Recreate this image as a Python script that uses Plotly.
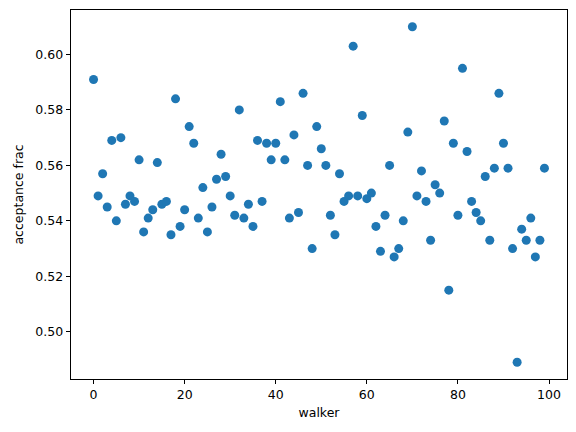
import plotly.graph_objects as go

walker = list(range(100))
acceptance_frac = [
    0.591, 0.549, 0.557, 0.545, 0.569, 0.540, 0.570, 0.546, 0.549, 0.547,
    0.562, 0.536, 0.541, 0.544, 0.561, 0.546, 0.547, 0.535, 0.584, 0.538,
    0.544, 0.574, 0.568, 0.541, 0.552, 0.536, 0.545, 0.555, 0.564, 0.556,
    0.549, 0.542, 0.580, 0.541, 0.546, 0.538, 0.569, 0.547, 0.568, 0.562,
    0.568, 0.583, 0.562, 0.541, 0.571, 0.543, 0.586, 0.560, 0.530, 0.574,
    0.566, 0.560, 0.542, 0.535, 0.557, 0.547, 0.549, 0.603, 0.549, 0.578,
    0.548, 0.550, 0.538, 0.529, 0.542, 0.560, 0.527, 0.530, 0.540, 0.572,
    0.610, 0.549, 0.558, 0.547, 0.533, 0.553, 0.550, 0.576, 0.515, 0.568,
    0.542, 0.595, 0.565, 0.547, 0.543, 0.540, 0.556, 0.533, 0.559, 0.586,
    0.568, 0.559, 0.530, 0.489, 0.537, 0.533, 0.541, 0.527, 0.533, 0.559,
]
x_ticks = [0, 20, 40, 60, 80, 100]
y_ticks = [0.50, 0.52, 0.54, 0.56, 0.58, 0.60]


def padded(vals, frac=0.05):
    lo, hi = min(vals), max(vals)
    d = (hi - lo) * frac
    return [lo - d, hi + d]


fig = go.Figure(
    go.Scatter(
        x=walker,
        y=acceptance_frac,
        mode="markers",
        marker=dict(color="#1f77b4", size=9, line=dict(width=0)),
        showlegend=False,
    )
)

axis_common = dict(
    showline=True,
    linecolor="black",
    linewidth=1,
    mirror=True,
    showgrid=False,
    zeroline=False,
    ticks="outside",
    ticklen=4.4,
    tickwidth=1,
    tickcolor="black",
    tickfont=dict(family="DejaVu Sans", size=12.5, color="black"),
    automargin=False,
)

fig.update_xaxes(
    range=padded(walker),
    tickmode="array",
    tickvals=x_ticks,
    ticktext=[str(v) for v in x_ticks],
    title=dict(text="walker", font=dict(family="DejaVu Sans", size=12.5, color="black"), standoff=6),
    **axis_common,
)
fig.update_yaxes(
    range=padded(acceptance_frac),
    tickmode="array",
    tickvals=y_ticks,
    ticktext=[f"{v:.2f}" for v in y_ticks],
    title=dict(text="acceptance frac", font=dict(family="DejaVu Sans", size=12.5, color="black"), standoff=8),
    **axis_common,
)

fig.update_layout(
    width=576,
    height=432,
    margin=dict(l=70.7, r=9.3, t=9.5, b=53),
    paper_bgcolor="white",
    plot_bgcolor="white",
    font=dict(family="DejaVu Sans", size=12.5, color="black"),
)

fig.write_html("out.html")
